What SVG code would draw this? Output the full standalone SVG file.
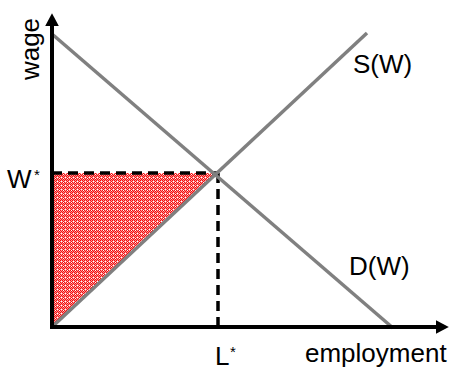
<svg xmlns="http://www.w3.org/2000/svg" width="453" height="373" viewBox="0 0 453 373">
<style>
.lbl{font-family:"Liberation Sans",Arial,sans-serif;font-size:26px;fill:#000}
.sup{font-family:"Liberation Sans",Arial,sans-serif;font-size:15px;fill:#000}
.curve{stroke:#808080;stroke-width:3.5;fill:none}
.axis{stroke:#000;stroke-width:4;fill:none}
.dash{stroke:#000;stroke-width:3.5;stroke-dasharray:10 6;fill:none}
</style>
<defs>
<pattern id="dots" width="4" height="4" patternUnits="userSpaceOnUse">
<rect width="4" height="4" fill="#f01010"/>
<rect x="1" y="0" width="1" height="1" fill="#ff9090"/>
<rect x="3" y="0" width="1" height="1" fill="#ff9090"/>
<rect x="0" y="1" width="1" height="1" fill="#ff9090"/>
<rect x="2" y="1" width="1" height="1" fill="#ff9090"/>
<rect x="1" y="2" width="1" height="1" fill="#ff9090"/>
<rect x="3" y="2" width="1" height="1" fill="#fff"/>
<rect x="0" y="3" width="1" height="1" fill="#ff9090"/>
<rect x="2" y="3" width="1" height="1" fill="#ff9090"/>
<rect x="1" y="1" width="1" height="1" fill="#fff"/>
</pattern>
<marker id="arr" markerWidth="4" markerHeight="4" refX="1" refY="2" orient="auto" markerUnits="strokeWidth">
<path d="M0,0.3 L3.2,2 L0,3.7 Z" fill="#000"/>
</marker>
</defs>
<g id="surplus">
<polygon points="52,173 218,173 52,327" fill="url(#dots)"/>
</g>
<g id="connectors">
<line class="dash" x1="52" y1="173" x2="218" y2="173"/>
<line class="dash" x1="218" y1="173" x2="218" y2="327"/>
<line class="curve" x1="52" y1="34" x2="393" y2="328"/>
<line class="curve" x1="52" y1="327" x2="367" y2="33"/>
<line class="axis" x1="52" y1="329" x2="52" y2="22" marker-end="url(#arr)"/>
<line class="axis" x1="50" y1="327" x2="440" y2="327" marker-end="url(#arr)"/>
</g>
<g id="labels">
<text class="lbl" transform="translate(39,49) rotate(-90)" text-anchor="middle">wage</text>
<text class="lbl" x="305" y="362">employment</text>
<text class="lbl" x="353" y="73">S(W)</text>
<text class="lbl" x="349" y="275">D(W)</text>
<text class="lbl" x="7" y="188">W</text><text class="sup" x="34" y="180">*</text>
<text class="lbl" x="215" y="365">L</text><text class="sup" x="230" y="357">*</text>
</g>
</svg>
